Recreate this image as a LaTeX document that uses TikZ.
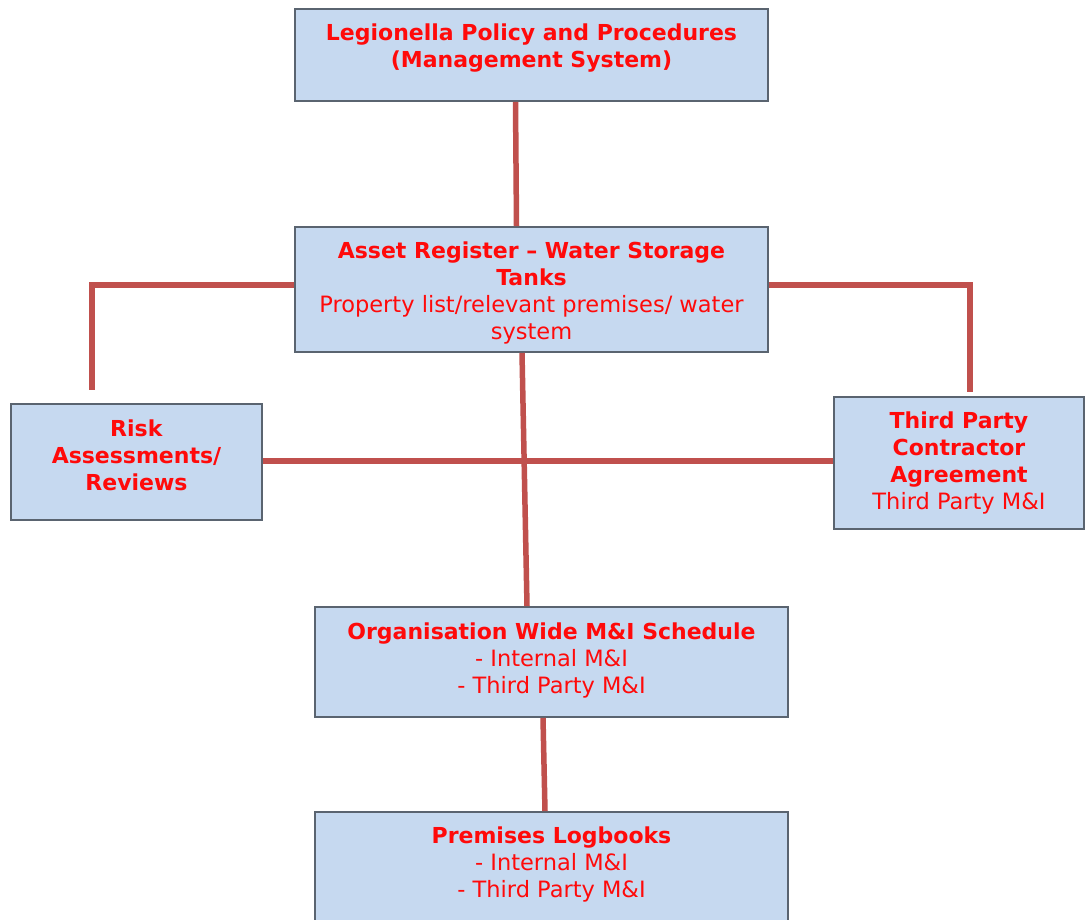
\documentclass[tikz,border=0pt]{standalone}
\usepackage{fontspec}
\setmainfont{DejaVu Sans}
\definecolor{boxfill}{HTML}{C6D9F0}
\definecolor{boxline}{HTML}{5A6470}
\definecolor{txtred}{HTML}{FF0A0A}
\definecolor{conn}{HTML}{C0504D}
\newcommand{\reg}[1]{{\fontsize{22.5}{27}\selectfont #1}}
\begin{document}
\begin{tikzpicture}[x=1pt,y=-1pt,
  box/.style={draw=boxline,line width=1.6pt,fill=boxfill,inner sep=0pt},
  txt/.style={text=txtred,align=center,inner sep=0pt,font=\fontsize{22}{27}\selectfont},
  conn/.style={draw=conn,line width=5.5pt,line join=miter}]
\clip (0,0) rectangle (1085,920);
\fill[white] (0,0) rectangle (1085,920);
% boxes
\node[box,minimum width=473pt,minimum height=92pt] (top) at (531.5,55) {};
\node[box,minimum width=473pt,minimum height=125pt] (asset) at (531.5,289.5) {};
\node[box,minimum width=251pt,minimum height=116pt] (risk) at (136.5,462) {};
\node[box,minimum width=250pt,minimum height=132pt] (third) at (959,463) {};
\node[box,minimum width=473pt,minimum height=110pt] (org) at (551.5,662) {};
\node[box,minimum width=473pt,minimum height=126pt] (prem) at (551.5,875) {};
% texts
\node[txt] (toptxt) at (531.5,48) {\textbf{Legionella Policy and Procedures}\\\textbf{(Management System)}};
\node[txt] (assettxt) at (531.5,292.5) {\textbf{Asset Register – Water Storage}\\\textbf{Tanks}\\\reg{Property list/relevant premises/ water}\\\reg{system}};
\node[txt] (risktxt) at (136.5,455.5) {\textbf{Risk}\\\textbf{Assessments/}\\\textbf{Reviews}};
\node[txt] (thirdtxt) at (959,462.5) {\textbf{Third Party}\\\textbf{Contractor}\\\textbf{Agreement}\\\reg{Third Party M\&I}};
\node[txt] (orgtxt) at (551.5,660.5) {\textbf{Organisation Wide M\&I Schedule}\\\reg{- Internal M\&I}\\\reg{- Third Party M\&I}};
\node[txt] (premtxt) at (551.5,864.5) {\textbf{Premises Logbooks}\\\reg{- Internal M\&I}\\\reg{- Third Party M\&I}};
% connectors
\draw[conn] ([xshift=-16pt]top.south) -- ([xshift=-15pt]asset.north);
\draw[conn] ([yshift=4.5pt]asset.west) -| ([xshift=-44.5pt,yshift=13pt]risk.north);
\draw[conn] ([yshift=4.5pt]asset.east) -| ([xshift=11pt,yshift=4pt]third.north);
\draw[conn] ([yshift=1pt]risk.east) -- ([yshift=2pt]third.west);
\draw[conn] ([xshift=-9.5pt]asset.south) -- ([xshift=-24.5pt]org.north);
\draw[conn] ([xshift=-8.5pt]org.south) -- ([xshift=-6.5pt]prem.north);
\end{tikzpicture}
\end{document}
